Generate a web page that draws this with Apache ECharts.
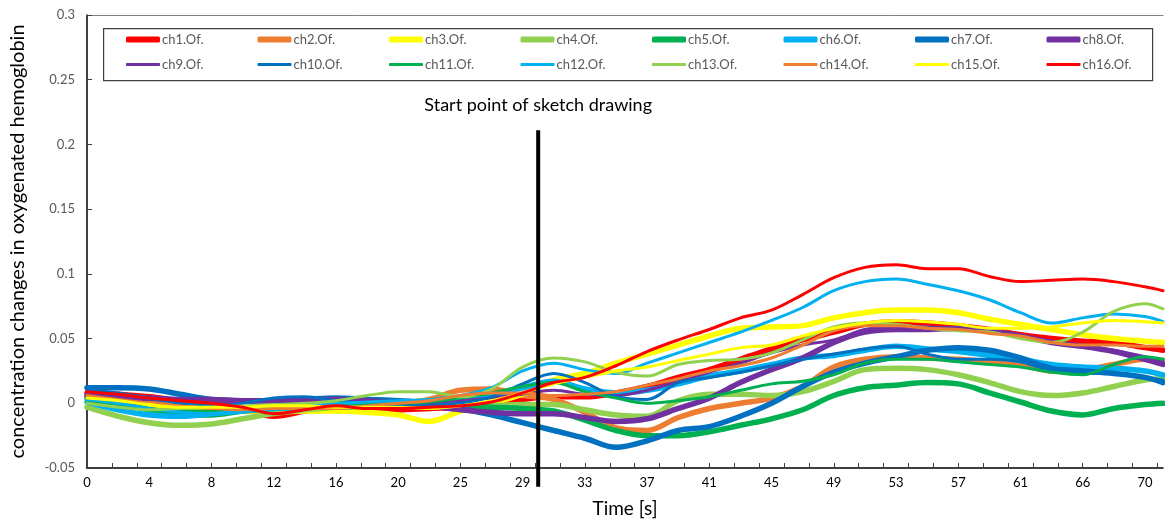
<!DOCTYPE html>
<html>
<head>
<meta charset="utf-8">
<script src="https://cdn.jsdelivr.net/npm/echarts@6/dist/echarts.min.js"></script>
<style>
html,body{margin:0;padding:0;background:#fff;}
#chart{width:1165px;height:522px;}
</style>
</head>
<body>
<div id="chart"></div>
<script>
// x positions in units of one tick-label interval (label i sits at i)
const xPos = [0,0.5,1,1.5,2,2.5,3,3.5,4,4.5,5,5.5,6,6.5,7,7.5,8,8.5,9,9.5,10,10.5,11,11.5,12,12.5,13,13.5,14,14.5,15,15.5,16,16.5,17,17.29];
const tickLabels = ['0','4','8','12','16','20','25','29','33','37','41','45','49','53','57','61','66','70'];

const ch1  = [0.008,0.007,0.005,0.002,0.000,-0.004,-0.010,-0.006,-0.002,-0.005,-0.005,-0.004,-0.003,-0.001,0.003, 0.005,0.005,0.008,0.013,0.020,0.026,0.034,0.042,0.049,0.055,0.061,0.063,0.062,0.060,0.057,0.053,0.050,0.048,0.047,0.043,0.041];
const ch2  = [0.006,0.004,0.001,-0.003,-0.005,-0.006,-0.007,-0.006,-0.005,-0.003,0.000,0.003,0.010,0.011,0.006, 0.003,-0.007,-0.019,-0.021,-0.011,-0.004,0.000,0.004,0.013,0.028,0.034,0.036,0.035,0.034,0.032,0.030,0.025,0.026,0.030,0.034,0.033];
const ch3  = [0.005,0.002,-0.002,-0.004,-0.005,-0.006,-0.006,-0.006,-0.006,-0.007,-0.009,-0.014,-0.006,0.000,0.007, 0.018,0.023,0.031,0.038,0.045,0.052,0.058,0.059,0.060,0.066,0.070,0.072,0.072,0.070,0.065,0.061,0.057,0.053,0.050,0.048,0.047];
const ch4  = [-0.003,-0.010,-0.015,-0.017,-0.016,-0.012,-0.008,-0.005,-0.003,-0.002,-0.002,-0.003,-0.003,-0.002,-0.001, -0.001,-0.005,-0.009,-0.010,0.002,0.007,0.007,0.006,0.009,0.017,0.026,0.027,0.026,0.022,0.016,0.009,0.006,0.008,0.013,0.018,0.019];
const ch5  = [0.004,0.000,-0.005,-0.009,-0.009,-0.006,-0.004,-0.003,-0.003,-0.002,-0.001,-0.001,-0.002,-0.003,-0.004, -0.006,-0.013,-0.021,-0.025,-0.025,-0.022,-0.017,-0.012,-0.005,0.006,0.012,0.014,0.016,0.015,0.008,0.001,-0.006,-0.009,-0.004,-0.001,0.000];
const ch6  = [0.001,-0.005,-0.009,-0.010,-0.008,-0.006,-0.004,-0.003,-0.001,0.000,0.000,0.001,0.003,0.006,0.012, 0.017,0.011,0.008,0.010,0.015,0.021,0.025,0.030,0.035,0.037,0.041,0.044,0.042,0.040,0.037,0.034,0.030,0.028,0.027,0.025,0.022];
const ch7  = [0.012,0.012,0.011,0.007,0.003,0.002,0.002,0.003,0.004,0.003,0.002,0.000,-0.004,-0.009,-0.015, -0.021,-0.027,-0.034,-0.029,-0.021,-0.018,-0.010,0.000,0.013,0.024,0.031,0.036,0.041,0.043,0.041,0.035,0.027,0.025,0.023,0.020,0.016];
const ch8  = [0.006,0.005,0.004,0.003,0.003,0.002,0.002,0.003,0.003,0.002,0.000,-0.002,-0.005,-0.007,-0.008, -0.008,-0.011,-0.014,-0.012,-0.004,0.004,0.016,0.026,0.035,0.047,0.055,0.057,0.057,0.058,0.056,0.052,0.047,0.044,0.040,0.034,0.030];
const ch9  = [0.005,0.004,0.003,0.002,0.001,0.001,0.001,0.002,0.002,0.001,0.000,0.001,0.002,0.004,0.007, 0.010,0.007,0.006,0.010,0.017,0.024,0.031,0.039,0.045,0.049,0.057,0.060,0.059,0.058,0.055,0.052,0.048,0.044,0.041,0.036,0.033];
const ch10 = [0.010,0.008,0.004,0.000,-0.002,0.000,0.004,0.005,0.002,0.000,-0.002,-0.002,0.000,0.005,0.015, 0.023,0.016,0.005,0.003,0.016,0.020,0.024,0.029,0.034,0.038,0.042,0.044,0.038,0.034,0.034,0.032,0.025,0.023,0.023,0.020,0.018];
const ch11 = [0.002,-0.001,-0.004,-0.006,-0.006,-0.004,-0.003,-0.002,-0.001,0.000,0.000,0.001,0.004,0.008,0.013, 0.016,0.009,0.004,0.000,0.002,0.005,0.010,0.015,0.017,0.022,0.031,0.034,0.034,0.032,0.030,0.028,0.024,0.022,0.030,0.036,0.034];
const ch12 = [0.003,0.000,-0.004,-0.007,-0.008,-0.005,-0.003,-0.001,0.000,0.001,0.002,0.003,0.006,0.012,0.025, 0.031,0.026,0.023,0.031,0.039,0.047,0.055,0.064,0.074,0.087,0.094,0.096,0.092,0.087,0.080,0.070,0.062,0.066,0.069,0.067,0.063];
const ch13 = [0.000,-0.003,-0.005,-0.004,-0.003,-0.002,-0.001,0.000,0.002,0.006,0.009,0.009,0.005,0.011,0.028, 0.035,0.032,0.024,0.021,0.030,0.033,0.034,0.039,0.049,0.059,0.062,0.061,0.058,0.056,0.055,0.050,0.047,0.055,0.071,0.077,0.073];
const ch14 = [0.006,0.003,0.000,-0.002,-0.004,-0.005,-0.004,-0.004,-0.004,-0.002,0.000,0.002,0.006,0.008,0.008, 0.006,0.007,0.009,0.014,0.019,0.025,0.029,0.035,0.045,0.056,0.060,0.060,0.058,0.057,0.054,0.052,0.047,0.045,0.045,0.044,0.044];
const ch15 = [0.004,0.002,-0.001,-0.003,-0.003,-0.003,-0.002,-0.002,-0.003,-0.003,-0.003,-0.004,-0.002,0.002,0.008, 0.015,0.020,0.025,0.028,0.033,0.038,0.043,0.045,0.052,0.058,0.062,0.064,0.063,0.061,0.058,0.058,0.059,0.062,0.064,0.063,0.062];
const ch16 = [0.009,0.007,0.004,0.002,0.000,-0.003,-0.008,-0.005,-0.002,-0.004,-0.004,-0.003,-0.002,0.001,0.008, 0.016,0.020,0.029,0.040,0.049,0.057,0.066,0.072,0.084,0.097,0.105,0.107,0.104,0.104,0.098,0.094,0.095,0.096,0.094,0.090,0.087];

const seriesNames = ['ch1.Of.','ch2.Of.','ch3.Of.','ch4.Of.','ch5.Of.','ch6.Of.','ch7.Of.','ch8.Of.',
                     'ch9.Of.','ch10.Of.','ch11.Of.','ch12.Of.','ch13.Of.','ch14.Of.','ch15.Of.','ch16.Of.'];
const seriesValues = [ch1,ch2,ch3,ch4,ch5,ch6,ch7,ch8,ch9,ch10,ch11,ch12,ch13,ch14,ch15,ch16];

// start-of-drawing marker (x in label units, y in data units)
const startX = 7.25;
const startTop = 0.211;
const startBottom = -0.0645;
const startText = 'Start point of sketch drawing';

const palette = ['#FF0000','#ED7D31','#FFFF00','#92D050','#00B050','#00B0F0','#0070C0','#7030A0',
                 '#7030A0','#0070C0','#00B050','#00B0F0','#92D050','#ED7D31','#FFFF00','#FF0000'];

const FONT = 'Lato, "Open Sans", sans-serif';

const labelIdx = tickLabels.map((_, i) => i);
const tickVals = [];
for (let k = 0; k * 0.4 <= 17.21; k++) tickVals.push(+(k * 0.4).toFixed(2));

const series = seriesValues.map((vals, si) => ({
  name: seriesNames[si],
  type: 'line',
  smooth: 0.35,
  symbol: 'none',
  showSymbol: false,
  data: xPos.map((x, i) => [x, vals[i]]),
  lineStyle: { width: si < 8 ? 5.5 : 3, color: palette[si], cap: 'round', join: 'round' },
  itemStyle: { color: palette[si] },
  emphasis: { disabled: true },
  z: 2
}));

series.push({
  name: 'start',
  type: 'line',
  symbol: 'none',
  clip: false,
  data: [[startX, startTop], [startX, startBottom]],
  lineStyle: { width: 4, color: '#000' },
  itemStyle: { color: '#000' },
  markPoint: {
    symbol: 'circle', symbolSize: 0,
    label: { show: true, position: 'top', distance: 16, formatter: startText,
             color: '#000', fontSize: 18, fontFamily: FONT },
    data: [{ coord: [startX, startTop] }]
  },
  emphasis: { disabled: true },
  z: 5
});

// one legend block per entry, laid out on a 8-column grid
const legendCols = 8, legendLeft = 126, legendColW = 131.5, legendRowTop = [33, 58];
const legends = seriesNames.map((name, i) => ({
  orient: 'horizontal',
  left: legendLeft + (i % legendCols) * legendColW,
  top: legendRowTop[Math.floor(i / legendCols)],
  padding: 0,
  itemWidth: 34,
  itemHeight: i < 8 ? 6 : 3,
  icon: 'roundRect',
  selectedMode: false,
  data: [name],
  textStyle: { color: '#595959', fontSize: 13, fontFamily: FONT, padding: [0, 0, 0, -3] }
}));

const option = {
  animation: false,
  backgroundColor: '#fff',
  grid: { left: 87, right: 2, top: 15, bottom: 54, containLabel: false, outerBoundsMode: 'none' },
  legend: legends,
  xAxis: [{
    type: 'value',
    min: 0, max: 17.29,
    name: 'Time [s]',
    nameLocation: 'middle',
    nameGap: 31,
    nameTextStyle: { color: '#000', fontSize: 19, fontFamily: FONT },
    axisLine: { show: true, onZero: false, lineStyle: { color: '#000', width: 1.5 } },
    axisTick: { show: true, inside: true, length: 5, customValues: tickVals, lineStyle: { color: '#404040' } },
    axisLabel: { show: true, customValues: labelIdx, margin: 8, color: '#000', fontSize: 13, fontFamily: FONT,
                 formatter: v => tickLabels[Math.round(v)] },
    splitLine: { show: false }
  }, {
    type: 'value', position: 'top', min: 0, max: 17.29,
    axisLine: { show: true, onZero: false, lineStyle: { color: '#808080', width: 1 } },
    axisTick: { show: false }, axisLabel: { show: false }, splitLine: { show: false }
  }],
  yAxis: {
    type: 'value',
    min: -0.05, max: 0.3, interval: 0.05,
    name: 'concentration changes in oxygenated hemoglobin',
    nameLocation: 'middle',
    nameGap: 59,
    nameTextStyle: { color: '#000', fontSize: 20, fontFamily: FONT },
    axisLine: { show: true, onZero: false, lineStyle: { color: '#000', width: 1.5 } },
    axisTick: { show: true, inside: true, length: 5, lineStyle: { color: '#404040' } },
    axisLabel: { margin: 12, color: '#595959', fontSize: 13, fontFamily: FONT,
                 formatter: v => String(+v.toFixed(2)) },
    splitLine: { show: false }
  },
  graphic: [{
    type: 'rect',
    left: 103, top: 28,
    shape: { width: 1049, height: 52 },
    style: { fill: 'rgba(0,0,0,0)', stroke: '#404040', lineWidth: 1.2 },
    z: 100, silent: true
  }],
  series: series
};

const chart = echarts.init(document.getElementById('chart'), null, { renderer: 'canvas' });
chart.setOption(option);
</script>
</body>
</html>
